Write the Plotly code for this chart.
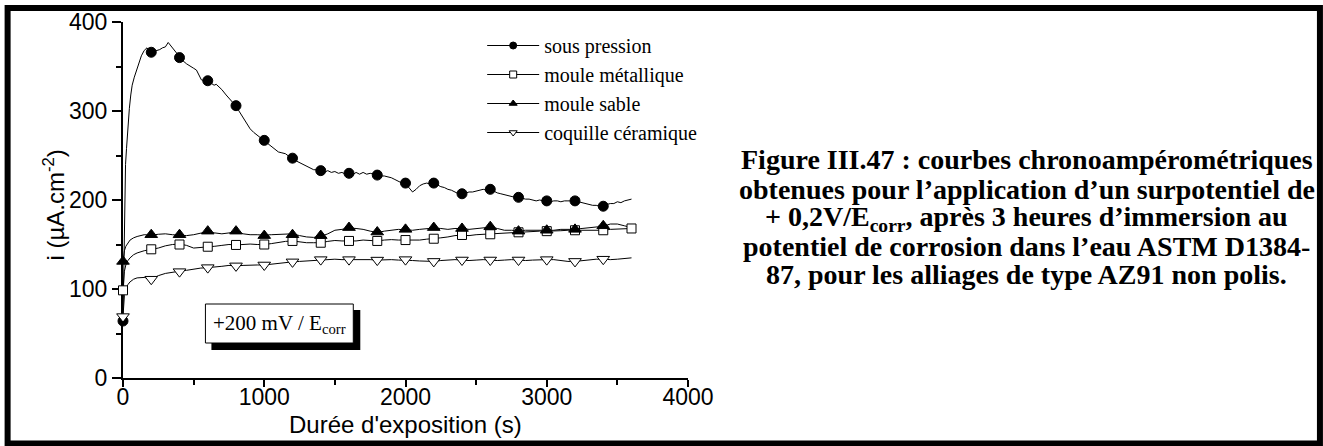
import plotly.graph_objects as go

# ---------------- data ----------------
# sous pression (continuous record)
T_SOUS = [0, 5, 10, 18, 25, 35, 45, 55, 65, 80, 95, 110, 130, 150, 170, 180, 202, 220, 240, 260,
          280, 300, 320, 335, 350, 370, 400, 420, 450, 475, 500, 520, 540, 555, 575, 600, 625, 645,
          660, 675, 700, 730, 760, 790, 800, 825, 850, 875, 900, 925, 950, 975, 1000, 1025, 1050,
          1075, 1100, 1125, 1150, 1175, 1200, 1225, 1250, 1275, 1300, 1325, 1350, 1375, 1400, 1425,
          1450, 1475, 1500, 1525, 1550, 1575, 1600, 1625, 1650, 1675, 1700, 1725, 1750, 1775, 1800,
          1825, 1850, 1875, 1900, 1925, 1950, 1975, 2000, 2025, 2050, 2075, 2100, 2125, 2150, 2175,
          2200, 2225, 2250, 2275, 2300, 2325, 2350, 2375, 2400, 2425, 2450, 2475, 2500, 2525, 2550,
          2575, 2600, 2625, 2650, 2675, 2700, 2725, 2750, 2775, 2800, 2825, 2850, 2875, 2900, 2925,
          2950, 2975, 3000, 3025, 3050, 3075, 3100, 3125, 3150, 3175, 3200, 3225, 3250, 3275, 3300,
          3325, 3350, 3375, 3400, 3425, 3450, 3475, 3500, 3525, 3550, 3575, 3600]
V_SOUS = [64, 130, 200, 240, 258, 285, 303, 318, 329, 338, 346, 353, 362, 368, 371, 369, 365.5, 367,
          368, 369, 371, 372, 377, 374, 370, 366, 360, 357, 353, 350, 348, 346, 339, 335, 334, 333.5,
          331, 329, 330, 328, 324, 318, 313, 307, 305.5, 299, 293, 287, 280, 276, 273, 270, 267, 263,
          260, 258, 254, 253, 252, 249, 247, 244, 242, 240, 237.5, 236, 234, 234, 233, 231, 233, 231,
          232, 230, 231, 229, 230, 228, 231, 229, 231, 229, 230, 229, 228, 227, 227, 226, 225, 223,
          221, 219, 218.5, 214, 209, 212, 216, 218, 219, 218, 218.5, 217, 215, 214, 212, 211, 209,
          207, 206.5, 208, 209, 209, 210, 211, 212, 211, 211.5, 210, 208, 207, 206, 205, 204, 203,
          203, 202, 201, 201, 200, 199, 200, 199, 199, 198, 199, 199, 198, 199, 199, 199, 199, 198,
          197, 196, 195, 194, 194, 193, 193, 195, 196, 196, 198, 197, 199, 200, 201]

# common time base of the three other records
T_REC = [0, 5, 10, 20, 35, 50, 75, 100, 150, 200, 250, 300, 350, 400, 450, 500, 550, 600, 650,
         700, 750, 800, 850, 900, 950, 1000, 1050, 1100, 1150, 1200, 1250, 1300, 1350, 1400, 1450,
         1500, 1550, 1600, 1650, 1700, 1750, 1800, 1850, 1900, 1950, 2000, 2050, 2100, 2150, 2200,
         2250, 2300, 2350, 2400, 2450, 2500, 2550, 2600, 2650, 2700, 2750, 2800, 2850, 2900, 2950,
         3000, 3050, 3100, 3150, 3200, 3250, 3300, 3350, 3400, 3450, 3500, 3550, 3600]
V_METAL = [98.5, 112, 120, 127, 132, 135, 138.5, 140.5, 143, 144.5, 146, 148.5, 150, 150.5, 149,
           146, 146.5, 147.5, 148, 149, 150, 149.5, 150, 150.5, 150, 150, 151, 152.5, 153.5, 154,
           153, 152, 152, 152, 153.5, 154.5, 154, 154, 154, 155, 154.5, 154, 155, 155.5, 155, 155,
           155.5, 155, 156, 156.5, 157.5, 158.5, 160, 160.5, 160, 161, 161.5, 161.5, 162, 163, 163.5,
           163.5, 164, 164.5, 165, 165, 165, 165.5, 166, 166, 166, 166, 166, 166, 167, 167.5, 168, 168]
V_SABLE = [131, 138, 143, 148, 152, 155, 157.5, 159, 161, 160.5, 161.5, 162, 161, 160.5, 160, 161,
           163, 164.5, 163, 162, 163, 164.5, 162, 161, 161, 160.5, 161, 161.5, 162, 162, 160, 158.5,
           158, 159, 162, 166, 167, 168.5, 168, 167, 165, 163.5, 165, 166, 167, 166.5, 166, 167, 168,
           168.5, 168, 167, 168, 168, 167, 168, 169, 169.5, 168, 166, 166, 165.5, 166, 166, 166, 166,
           166, 167, 167, 167, 168, 169, 170, 170.5, 173, 173, 171, 169]
V_CERAM = [69, 85, 93, 100, 105, 108, 111, 112.5, 113, 111, 115, 117.5, 119, 120, 121, 122.5, 123.5,
           124, 124.5, 125.5, 126.5, 126, 126.5, 127, 127, 127, 128, 128.5, 129.5, 130.5, 131, 131.5,
           132.5, 133, 133, 133.5, 133, 133, 133.5, 133, 133, 132.5, 133, 133, 132.5, 132.5, 132,
           131.5, 131.5, 131, 132, 132.5, 133, 132.5, 132, 132.5, 133, 132.5, 132, 132.5, 133, 132.5,
           132, 132.5, 133, 133, 133, 132, 131, 131, 132, 133, 133.5, 133.5, 133, 133.5, 134.5, 135]

# symbols (every 200 s)
T_MARK = [0, 200, 400, 600, 800, 1000, 1200, 1400, 1600, 1800, 2000, 2200, 2400, 2600, 2800,
          3000, 3200, 3400]
T_MARK_METAL = T_MARK + [3600]
M_SOUS = [64, 366, 360, 334, 306, 267, 247, 233, 230, 228, 219, 219, 207, 212, 203, 199, 199, 193]
M_METAL = [98.5, 144.6, 150, 147.5, 149.5, 150, 154, 152, 154, 154, 155, 156.5, 160.7, 161.5,
           163.7, 165, 166, 166, 168]
M_SABLE = [131, 161, 161, 165, 165, 160, 161, 160, 169, 164, 167, 169, 168, 170, 165, 166, 167, 171]
M_CERAM = [69, 111, 119.5, 124, 126, 127, 130.5, 133, 133, 132.5, 133, 131, 132.6, 132.6, 132.6,
           133, 131, 133.5]

NAMES = ["sous pression", "moule métallique", "moule sable", "coquille céramique"]
X_TICKS = [0, 1000, 2000, 3000, 4000]
Y_TICKS = [0, 100, 200, 300, 400]
X_TITLE = "Durée d'exposition (s)"
Y_TITLE = "i (µA.cm<sup>-2</sup>)"
CAPTION = [
    "Figure III.47 : courbes chronoampérométriques",
    "obtenues pour l\u2019application d\u2019un surpotentiel de",
    "+ 0,2V/E<sub>corr</sub>, après 3 heures d\u2019immersion au",
    "potentiel de corrosion dans l\u2019eau ASTM D1384-",
    "87, pour les alliages de type AZ91 non polis.",
]
BOX_TEXT = "+200 mV / E<sub>corr</sub>"

# ---------------- figure ----------------
SANS = "Liberation Sans, Arial, sans-serif"
SERIF = "Liberation Serif, Times New Roman, serif"

fig = go.Figure()

series = [
    (T_SOUS, V_SOUS, T_MARK, M_SOUS, "circle", "black", 10),
    (T_REC, V_METAL, T_MARK_METAL, M_METAL, "square", "white", 9),
    (T_REC, V_SABLE, T_MARK, M_SABLE, "triangle-up", "black", 11),
    (T_REC, V_CERAM, T_MARK, M_CERAM, "triangle-down", "white", 11),
]

for name, (tl, vl, tm, vm, sym, fill, size) in zip(NAMES, series):
    fig.add_trace(go.Scatter(x=tl, y=vl, mode="lines", line=dict(color="black", width=1),
                             showlegend=False, hoverinfo="skip"))
for name, (tl, vl, tm, vm, sym, fill, size) in zip(NAMES, series):
    fig.add_trace(go.Scatter(x=tm, y=vm, mode="markers", cliponaxis=False,
                             marker=dict(symbol=sym, size=size, color=fill,
                                         line=dict(color="black", width=1)),
                             showlegend=False, name=name))
for name, (tl, vl, tm, vm, sym, fill, size) in zip(NAMES, series):
    fig.add_trace(go.Scatter(x=[None], y=[None], mode="lines+markers", name=name,
                             line=dict(color="black", width=1),
                             marker=dict(symbol=sym, size=7, color=fill,
                                         line=dict(color="black", width=1))))

# plot-area geometry (px) used for paper coordinates of decorations
L, R, T, B = 122.5, 688.0, 22.0, 378.0
W, H = R - L, B - T

def px2paper(px, py):
    return (px - L) / W, (B - py) / H

# outer frame
x0, y1 = px2paper(7, 8)
x1, y0 = px2paper(1320.5, 443.5)
fig.add_shape(type="rect", xref="paper", yref="paper", x0=x0, x1=x1, y0=y0, y1=y1,
              line=dict(color="black", width=6), fillcolor="rgba(0,0,0,0)", layer="above")

# annotation box with drop shadow
bx0, by1 = px2paper(205, 304)
bx1, by0 = px2paper(353, 343)
sx0, sy1 = px2paper(211, 310)
sx1, sy0 = px2paper(360, 350)
fig.add_shape(type="rect", xref="paper", yref="paper", x0=sx0, x1=sx1, y0=sy0, y1=sy1,
              line=dict(width=0), fillcolor="black", layer="above")
fig.add_shape(type="rect", xref="paper", yref="paper", x0=bx0, x1=bx1, y0=by0, y1=by1,
              line=dict(color="black", width=1), fillcolor="white", layer="above")
fig.add_annotation(xref="paper", yref="paper", x=(bx0 + bx1) / 2, y=(by0 + by1) / 2,
                   text=BOX_TEXT, showarrow=False, xanchor="center", yanchor="middle",
                   font=dict(family=SERIF, size=21, color="black"))

# axis titles
tx, ty = px2paper(405, 424)
fig.add_annotation(xref="paper", yref="paper", x=tx, y=ty, text=X_TITLE, showarrow=False,
                   xanchor="center", yanchor="middle",
                   font=dict(family=SANS, size=24, color="black"))
tx, ty = px2paper(53, 205)
fig.add_annotation(xref="paper", yref="paper", x=tx, y=ty, text=Y_TITLE, showarrow=False,
                   xanchor="center", yanchor="middle", textangle=-90,
                   font=dict(family=SANS, size=24, color="black"))

# caption
cap_y = [160, 189, 218, 246, 274]
for line, py in zip(CAPTION, cap_y):
    cx, cy = px2paper(1027, py)
    fig.add_annotation(xref="paper", yref="paper", x=cx, y=cy, text="<b>" + line + "</b>",
                       showarrow=False, xanchor="center", yanchor="middle",
                       font=dict(family=SERIF, size=28, color="black"))

lx, ly = px2paper(482, 26)
fig.update_layout(
    width=1323, height=446,
    margin=dict(l=L, r=1323 - R, t=T, b=446 - B, pad=0, autoexpand=False),
    paper_bgcolor="white", plot_bgcolor="white",
    showlegend=True,
    legend=dict(x=lx, y=ly, xanchor="left", yanchor="top", bgcolor="rgba(0,0,0,0)",
                font=dict(family=SERIF, size=20, color="black"), itemwidth=52,
                tracegroupgap=0),
    xaxis=dict(range=[0, 4000], tickvals=X_TICKS, ticks="outside", ticklen=7, tickwidth=1.5,
               tickcolor="black", showline=True, linecolor="black", linewidth=2,
               showgrid=False, zeroline=False, layer="below traces", ticklabelstandoff=-10,
               minor=dict(ticks="outside", ticklen=5, dtick=500, tickwidth=1.5, tickcolor="black",
                          showgrid=False),
               tickfont=dict(family=SANS, size=23, color="black")),
    yaxis=dict(range=[0, 400], tickvals=Y_TICKS, ticks="outside", ticklen=9, tickwidth=1.5,
               tickcolor="black", showline=True, linecolor="black", linewidth=2,
               showgrid=False, zeroline=False, layer="below traces",
               minor=dict(ticks="outside", ticklen=5, dtick=50, tickwidth=1.5, tickcolor="black",
                          showgrid=False),
               tickfont=dict(family=SANS, size=23, color="black")),
)

fig.write_html("out.html", config={"displayModeBar": False},
               post_script="document.body.style.margin='0';")
